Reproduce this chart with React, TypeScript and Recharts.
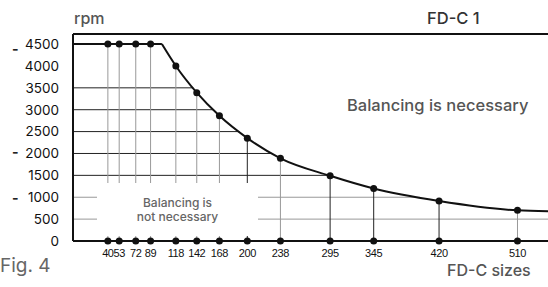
import { ComposedChart, Line, Scatter, XAxis, YAxis, ReferenceLine } from 'recharts'

// FD-C sizes and their maximum speed without balancing (rpm)
const sizes = [40, 53, 72, 89, 118, 142, 168, 200, 238, 295, 345, 420, 510]
const speeds = [4500, 4500, 4500, 4500, 4000, 3390, 2860, 2350, 1890, 1490, 1200, 915, 700]

// limit curve: flat part up to the knee, then falling to the right edge
const kneeSize = 102
const edgeSize = 545
const edgeSpeed = 680
const maxSpeed = 4500
const yTop = 4730

const yTicks = [0, 500, 1000, 1500, 2000, 2500, 3000, 3500, 4000, 4500]
// horizontal helper lines run from the axis to where they meet the curve
const gridLevels = [500, 1000, 1500, 2000, 2500, 3000, 3500]
const gridEnds = [545, 398, 293, 229, 191, 161, 138]
const lightLevels = [500, 1000]
const darkDrops = [200, 295, 345, 420]

const points = sizes.map((s, i) => ({ size: s, rpm: speeds[i] }))
const axisDots = sizes.map((s) => ({ size: s, rpm: 0 }))
const flatData = [
  { size: 0, rpm: maxSpeed },
  { size: kneeSize, rpm: maxSpeed },
]
const curveData = [
  { size: kneeSize, rpm: maxSpeed },
  ...points.filter((p) => p.size > kneeSize),
  { size: edgeSize, rpm: edgeSpeed },
]

const font = 'Inter, "Noto Sans", sans-serif'

const text = (left: number, top: number, size: number, color: string, weight = 500) => ({
  position: 'absolute' as const,
  left,
  top,
  fontSize: size,
  color,
  fontWeight: weight,
  fontFamily: font,
  lineHeight: 1,
  whiteSpace: 'nowrap' as const,
})

const dot = (props: any) => <circle cx={props.cx} cy={props.cy} r={3.5} fill="#111" />

export default function App() {
  return (
    <div style={{ position: 'absolute', left: 0, top: 0, width: 548, height: 287, background: '#fff', overflow: 'hidden' }}>
      <ComposedChart width={548} height={287} margin={{ top: 34, right: 0, left: 0, bottom: 26 }}>
        <XAxis
          type="number"
          dataKey="size"
          domain={[0, edgeSize]}
          ticks={sizes}
          interval={0}
          height={20}
          axisLine={{ stroke: '#111', strokeWidth: 2 }}
          tickLine={false}
          tick={{ fontSize: 11, fill: '#111', fontFamily: '"Liberation Sans", Arial, sans-serif', letterSpacing: -0.4 }}
          tickMargin={2}
        />
        <YAxis
          type="number"
          dataKey="rpm"
          domain={[0, yTop]}
          ticks={yTicks}
          interval={0}
          width={73}
          axisLine={{ stroke: '#111', strokeWidth: 2 }}
          tickLine={false}
          tick={{ fontSize: 13.5, fill: '#111', fontFamily: font }}
          tickMargin={8}
        />
        <ReferenceLine y={yTop} stroke="#111" strokeWidth={2} />
        {gridLevels.map((v, i) => (
          <ReferenceLine
            key={'h' + v}
            segment={[{ x: 0, y: v }, { x: gridEnds[i], y: v }]}
            stroke={lightLevels.includes(v) ? '#999' : '#222'}
            strokeWidth={1}
          />
        ))}
        {points.map((p) => (
          <ReferenceLine
            key={'v' + p.size}
            segment={[{ x: p.size, y: 0 }, { x: p.size, y: p.rpm }]}
            stroke={darkDrops.includes(p.size) ? '#222' : '#999'}
            strokeWidth={1}
          />
        ))}
        <Line data={flatData} dataKey="rpm" type="linear" stroke="#111" strokeWidth={2} dot={false} isAnimationActive={false} />
        <Line data={curveData} dataKey="rpm" type="monotone" stroke="#111" strokeWidth={2} dot={false} isAnimationActive={false} />
        <Scatter data={points} dataKey="rpm" shape={dot} isAnimationActive={false} />
        <Scatter data={axisDots} dataKey="rpm" shape={dot} isAnimationActive={false} />
      </ComposedChart>

      <div
        style={{
          ...text(97, 183, 12, '#666'),
          width: 161,
          height: 53,
          background: '#fff',
          textAlign: 'center',
          lineHeight: '14px',
          paddingTop: 13,
          boxSizing: 'border-box',
        }}
      >
        Balancing is
        <br />
        not necessary
      </div>
      <div style={text(74, 10, 16, '#555', 500)}>rpm</div>
      <div style={text(427, 10, 16.5, '#333')}>FD-C 1</div>
      <div style={text(347, 97, 16.5, '#555')}>Balancing is necessary</div>
      <div style={text(0, 256, 19, '#666', 400)}>Fig. 4</div>
      <div style={text(447, 262, 16, '#555')}>FD-C sizes</div>
      <div style={text(12, 42, 14, '#222', 700)}>-</div>
      <div style={text(12, 145, 14, '#222', 700)}>-</div>
      <div style={text(12, 191, 14, '#222', 700)}>-</div>
    </div>
  )
}
